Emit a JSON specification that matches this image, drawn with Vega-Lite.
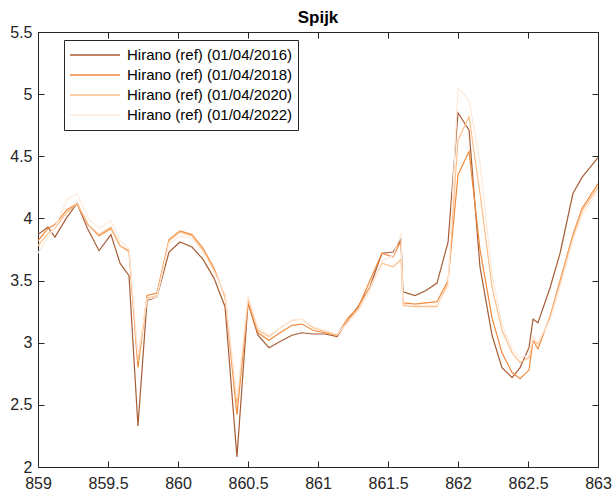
{
  "$schema": "https://vega.github.io/schema/vega-lite/v6.json",
  "width": 560,
  "height": 435,
  "autosize": {"type": "none"},
  "padding": {"left": 38, "top": 32, "right": 15, "bottom": 28},
  "background": "white",
  "title": {"text": "Spijk", "font": "Liberation Sans", "fontSize": 17, "fontWeight": "bold", "color": "#000000", "offset": -3, "anchor": "middle"},
  "config": {
    "view": {"stroke": "#262626", "strokeWidth": 1},
    "axis": {
      "grid": false,
      "domainColor": "#262626",
      "tickColor": "#262626",
      "labelColor": "#262626",
      "labelFont": "Liberation Sans",
      "labelFontSize": 16,
      "tickSize": -6,
      "tickWidth": 1,
      "domainWidth": 1,
      "title": null
    }
  },
  "data": {
    "values": [
      {"km": 859.000, "wl": 3.87, "s": "Hirano (ref) (01/04/2016)"},
      {"km": 859.071, "wl": 3.93, "s": "Hirano (ref) (01/04/2016)"},
      {"km": 859.121, "wl": 3.85, "s": "Hirano (ref) (01/04/2016)"},
      {"km": 859.207, "wl": 4.01, "s": "Hirano (ref) (01/04/2016)"},
      {"km": 859.279, "wl": 4.12, "s": "Hirano (ref) (01/04/2016)"},
      {"km": 859.357, "wl": 3.91, "s": "Hirano (ref) (01/04/2016)"},
      {"km": 859.436, "wl": 3.74, "s": "Hirano (ref) (01/04/2016)"},
      {"km": 859.521, "wl": 3.87, "s": "Hirano (ref) (01/04/2016)"},
      {"km": 859.586, "wl": 3.64, "s": "Hirano (ref) (01/04/2016)"},
      {"km": 859.650, "wl": 3.54, "s": "Hirano (ref) (01/04/2016)"},
      {"km": 859.714, "wl": 2.33, "s": "Hirano (ref) (01/04/2016)"},
      {"km": 859.779, "wl": 3.34, "s": "Hirano (ref) (01/04/2016)"},
      {"km": 859.850, "wl": 3.37, "s": "Hirano (ref) (01/04/2016)"},
      {"km": 859.936, "wl": 3.73, "s": "Hirano (ref) (01/04/2016)"},
      {"km": 860.014, "wl": 3.81, "s": "Hirano (ref) (01/04/2016)"},
      {"km": 860.100, "wl": 3.77, "s": "Hirano (ref) (01/04/2016)"},
      {"km": 860.179, "wl": 3.67, "s": "Hirano (ref) (01/04/2016)"},
      {"km": 860.257, "wl": 3.52, "s": "Hirano (ref) (01/04/2016)"},
      {"km": 860.336, "wl": 3.29, "s": "Hirano (ref) (01/04/2016)"},
      {"km": 860.421, "wl": 2.08, "s": "Hirano (ref) (01/04/2016)"},
      {"km": 860.500, "wl": 3.32, "s": "Hirano (ref) (01/04/2016)"},
      {"km": 860.571, "wl": 3.06, "s": "Hirano (ref) (01/04/2016)"},
      {"km": 860.650, "wl": 2.96, "s": "Hirano (ref) (01/04/2016)"},
      {"km": 860.729, "wl": 3.01, "s": "Hirano (ref) (01/04/2016)"},
      {"km": 860.814, "wl": 3.06, "s": "Hirano (ref) (01/04/2016)"},
      {"km": 860.886, "wl": 3.08, "s": "Hirano (ref) (01/04/2016)"},
      {"km": 860.964, "wl": 3.07, "s": "Hirano (ref) (01/04/2016)"},
      {"km": 861.050, "wl": 3.07, "s": "Hirano (ref) (01/04/2016)"},
      {"km": 861.136, "wl": 3.05, "s": "Hirano (ref) (01/04/2016)"},
      {"km": 861.214, "wl": 3.18, "s": "Hirano (ref) (01/04/2016)"},
      {"km": 861.286, "wl": 3.29, "s": "Hirano (ref) (01/04/2016)"},
      {"km": 861.371, "wl": 3.45, "s": "Hirano (ref) (01/04/2016)"},
      {"km": 861.457, "wl": 3.72, "s": "Hirano (ref) (01/04/2016)"},
      {"km": 861.536, "wl": 3.73, "s": "Hirano (ref) (01/04/2016)"},
      {"km": 861.593, "wl": 3.83, "s": "Hirano (ref) (01/04/2016)"},
      {"km": 861.607, "wl": 3.41, "s": "Hirano (ref) (01/04/2016)"},
      {"km": 861.693, "wl": 3.38, "s": "Hirano (ref) (01/04/2016)"},
      {"km": 861.771, "wl": 3.42, "s": "Hirano (ref) (01/04/2016)"},
      {"km": 861.850, "wl": 3.48, "s": "Hirano (ref) (01/04/2016)"},
      {"km": 861.929, "wl": 3.81, "s": "Hirano (ref) (01/04/2016)"},
      {"km": 862.000, "wl": 4.85, "s": "Hirano (ref) (01/04/2016)"},
      {"km": 862.079, "wl": 4.71, "s": "Hirano (ref) (01/04/2016)"},
      {"km": 862.157, "wl": 3.61, "s": "Hirano (ref) (01/04/2016)"},
      {"km": 862.243, "wl": 3.06, "s": "Hirano (ref) (01/04/2016)"},
      {"km": 862.314, "wl": 2.80, "s": "Hirano (ref) (01/04/2016)"},
      {"km": 862.386, "wl": 2.72, "s": "Hirano (ref) (01/04/2016)"},
      {"km": 862.443, "wl": 2.80, "s": "Hirano (ref) (01/04/2016)"},
      {"km": 862.507, "wl": 2.96, "s": "Hirano (ref) (01/04/2016)"},
      {"km": 862.536, "wl": 3.19, "s": "Hirano (ref) (01/04/2016)"},
      {"km": 862.571, "wl": 3.16, "s": "Hirano (ref) (01/04/2016)"},
      {"km": 862.657, "wl": 3.44, "s": "Hirano (ref) (01/04/2016)"},
      {"km": 862.729, "wl": 3.72, "s": "Hirano (ref) (01/04/2016)"},
      {"km": 862.821, "wl": 4.20, "s": "Hirano (ref) (01/04/2016)"},
      {"km": 862.886, "wl": 4.33, "s": "Hirano (ref) (01/04/2016)"},
      {"km": 863.000, "wl": 4.49, "s": "Hirano (ref) (01/04/2016)"},

      {"km": 859.000, "wl": 3.82, "s": "Hirano (ref) (01/04/2018)"},
      {"km": 859.071, "wl": 3.92, "s": "Hirano (ref) (01/04/2018)"},
      {"km": 859.121, "wl": 3.95, "s": "Hirano (ref) (01/04/2018)"},
      {"km": 859.207, "wl": 4.07, "s": "Hirano (ref) (01/04/2018)"},
      {"km": 859.279, "wl": 4.12, "s": "Hirano (ref) (01/04/2018)"},
      {"km": 859.357, "wl": 3.95, "s": "Hirano (ref) (01/04/2018)"},
      {"km": 859.436, "wl": 3.86, "s": "Hirano (ref) (01/04/2018)"},
      {"km": 859.521, "wl": 3.92, "s": "Hirano (ref) (01/04/2018)"},
      {"km": 859.586, "wl": 3.78, "s": "Hirano (ref) (01/04/2018)"},
      {"km": 859.650, "wl": 3.74, "s": "Hirano (ref) (01/04/2018)"},
      {"km": 859.714, "wl": 2.80, "s": "Hirano (ref) (01/04/2018)"},
      {"km": 859.779, "wl": 3.38, "s": "Hirano (ref) (01/04/2018)"},
      {"km": 859.850, "wl": 3.40, "s": "Hirano (ref) (01/04/2018)"},
      {"km": 859.936, "wl": 3.83, "s": "Hirano (ref) (01/04/2018)"},
      {"km": 860.014, "wl": 3.90, "s": "Hirano (ref) (01/04/2018)"},
      {"km": 860.100, "wl": 3.87, "s": "Hirano (ref) (01/04/2018)"},
      {"km": 860.179, "wl": 3.76, "s": "Hirano (ref) (01/04/2018)"},
      {"km": 860.257, "wl": 3.60, "s": "Hirano (ref) (01/04/2018)"},
      {"km": 860.336, "wl": 3.37, "s": "Hirano (ref) (01/04/2018)"},
      {"km": 860.421, "wl": 2.42, "s": "Hirano (ref) (01/04/2018)"},
      {"km": 860.500, "wl": 3.32, "s": "Hirano (ref) (01/04/2018)"},
      {"km": 860.571, "wl": 3.08, "s": "Hirano (ref) (01/04/2018)"},
      {"km": 860.650, "wl": 3.02, "s": "Hirano (ref) (01/04/2018)"},
      {"km": 860.729, "wl": 3.08, "s": "Hirano (ref) (01/04/2018)"},
      {"km": 860.814, "wl": 3.14, "s": "Hirano (ref) (01/04/2018)"},
      {"km": 860.886, "wl": 3.15, "s": "Hirano (ref) (01/04/2018)"},
      {"km": 860.964, "wl": 3.10, "s": "Hirano (ref) (01/04/2018)"},
      {"km": 861.050, "wl": 3.08, "s": "Hirano (ref) (01/04/2018)"},
      {"km": 861.136, "wl": 3.06, "s": "Hirano (ref) (01/04/2018)"},
      {"km": 861.214, "wl": 3.20, "s": "Hirano (ref) (01/04/2018)"},
      {"km": 861.286, "wl": 3.28, "s": "Hirano (ref) (01/04/2018)"},
      {"km": 861.371, "wl": 3.50, "s": "Hirano (ref) (01/04/2018)"},
      {"km": 861.457, "wl": 3.72, "s": "Hirano (ref) (01/04/2018)"},
      {"km": 861.536, "wl": 3.69, "s": "Hirano (ref) (01/04/2018)"},
      {"km": 861.593, "wl": 3.82, "s": "Hirano (ref) (01/04/2018)"},
      {"km": 861.607, "wl": 3.32, "s": "Hirano (ref) (01/04/2018)"},
      {"km": 861.693, "wl": 3.31, "s": "Hirano (ref) (01/04/2018)"},
      {"km": 861.771, "wl": 3.32, "s": "Hirano (ref) (01/04/2018)"},
      {"km": 861.850, "wl": 3.33, "s": "Hirano (ref) (01/04/2018)"},
      {"km": 861.929, "wl": 3.50, "s": "Hirano (ref) (01/04/2018)"},
      {"km": 862.000, "wl": 4.35, "s": "Hirano (ref) (01/04/2018)"},
      {"km": 862.079, "wl": 4.54, "s": "Hirano (ref) (01/04/2018)"},
      {"km": 862.157, "wl": 3.75, "s": "Hirano (ref) (01/04/2018)"},
      {"km": 862.243, "wl": 3.20, "s": "Hirano (ref) (01/04/2018)"},
      {"km": 862.314, "wl": 2.92, "s": "Hirano (ref) (01/04/2018)"},
      {"km": 862.386, "wl": 2.76, "s": "Hirano (ref) (01/04/2018)"},
      {"km": 862.443, "wl": 2.71, "s": "Hirano (ref) (01/04/2018)"},
      {"km": 862.507, "wl": 2.78, "s": "Hirano (ref) (01/04/2018)"},
      {"km": 862.536, "wl": 3.02, "s": "Hirano (ref) (01/04/2018)"},
      {"km": 862.571, "wl": 2.95, "s": "Hirano (ref) (01/04/2018)"},
      {"km": 862.657, "wl": 3.21, "s": "Hirano (ref) (01/04/2018)"},
      {"km": 862.729, "wl": 3.50, "s": "Hirano (ref) (01/04/2018)"},
      {"km": 862.821, "wl": 3.87, "s": "Hirano (ref) (01/04/2018)"},
      {"km": 862.886, "wl": 4.08, "s": "Hirano (ref) (01/04/2018)"},
      {"km": 863.000, "wl": 4.28, "s": "Hirano (ref) (01/04/2018)"},

      {"km": 859.000, "wl": 3.78, "s": "Hirano (ref) (01/04/2020)"},
      {"km": 859.071, "wl": 3.88, "s": "Hirano (ref) (01/04/2020)"},
      {"km": 859.121, "wl": 3.92, "s": "Hirano (ref) (01/04/2020)"},
      {"km": 859.207, "wl": 4.05, "s": "Hirano (ref) (01/04/2020)"},
      {"km": 859.279, "wl": 4.12, "s": "Hirano (ref) (01/04/2020)"},
      {"km": 859.357, "wl": 3.95, "s": "Hirano (ref) (01/04/2020)"},
      {"km": 859.436, "wl": 3.87, "s": "Hirano (ref) (01/04/2020)"},
      {"km": 859.521, "wl": 3.93, "s": "Hirano (ref) (01/04/2020)"},
      {"km": 859.586, "wl": 3.78, "s": "Hirano (ref) (01/04/2020)"},
      {"km": 859.650, "wl": 3.73, "s": "Hirano (ref) (01/04/2020)"},
      {"km": 859.714, "wl": 2.85, "s": "Hirano (ref) (01/04/2020)"},
      {"km": 859.779, "wl": 3.36, "s": "Hirano (ref) (01/04/2020)"},
      {"km": 859.850, "wl": 3.38, "s": "Hirano (ref) (01/04/2020)"},
      {"km": 859.936, "wl": 3.82, "s": "Hirano (ref) (01/04/2020)"},
      {"km": 860.014, "wl": 3.89, "s": "Hirano (ref) (01/04/2020)"},
      {"km": 860.100, "wl": 3.86, "s": "Hirano (ref) (01/04/2020)"},
      {"km": 860.179, "wl": 3.74, "s": "Hirano (ref) (01/04/2020)"},
      {"km": 860.257, "wl": 3.58, "s": "Hirano (ref) (01/04/2020)"},
      {"km": 860.336, "wl": 3.38, "s": "Hirano (ref) (01/04/2020)"},
      {"km": 860.421, "wl": 2.50, "s": "Hirano (ref) (01/04/2020)"},
      {"km": 860.500, "wl": 3.35, "s": "Hirano (ref) (01/04/2020)"},
      {"km": 860.571, "wl": 3.10, "s": "Hirano (ref) (01/04/2020)"},
      {"km": 860.650, "wl": 3.05, "s": "Hirano (ref) (01/04/2020)"},
      {"km": 860.729, "wl": 3.12, "s": "Hirano (ref) (01/04/2020)"},
      {"km": 860.814, "wl": 3.18, "s": "Hirano (ref) (01/04/2020)"},
      {"km": 860.886, "wl": 3.19, "s": "Hirano (ref) (01/04/2020)"},
      {"km": 860.964, "wl": 3.12, "s": "Hirano (ref) (01/04/2020)"},
      {"km": 861.050, "wl": 3.09, "s": "Hirano (ref) (01/04/2020)"},
      {"km": 861.136, "wl": 3.06, "s": "Hirano (ref) (01/04/2020)"},
      {"km": 861.214, "wl": 3.18, "s": "Hirano (ref) (01/04/2020)"},
      {"km": 861.286, "wl": 3.27, "s": "Hirano (ref) (01/04/2020)"},
      {"km": 861.371, "wl": 3.45, "s": "Hirano (ref) (01/04/2020)"},
      {"km": 861.457, "wl": 3.64, "s": "Hirano (ref) (01/04/2020)"},
      {"km": 861.536, "wl": 3.61, "s": "Hirano (ref) (01/04/2020)"},
      {"km": 861.593, "wl": 3.67, "s": "Hirano (ref) (01/04/2020)"},
      {"km": 861.607, "wl": 3.30, "s": "Hirano (ref) (01/04/2020)"},
      {"km": 861.693, "wl": 3.29, "s": "Hirano (ref) (01/04/2020)"},
      {"km": 861.771, "wl": 3.29, "s": "Hirano (ref) (01/04/2020)"},
      {"km": 861.850, "wl": 3.29, "s": "Hirano (ref) (01/04/2020)"},
      {"km": 861.929, "wl": 3.48, "s": "Hirano (ref) (01/04/2020)"},
      {"km": 862.000, "wl": 4.63, "s": "Hirano (ref) (01/04/2020)"},
      {"km": 862.079, "wl": 4.82, "s": "Hirano (ref) (01/04/2020)"},
      {"km": 862.157, "wl": 4.20, "s": "Hirano (ref) (01/04/2020)"},
      {"km": 862.243, "wl": 3.45, "s": "Hirano (ref) (01/04/2020)"},
      {"km": 862.314, "wl": 3.10, "s": "Hirano (ref) (01/04/2020)"},
      {"km": 862.386, "wl": 2.92, "s": "Hirano (ref) (01/04/2020)"},
      {"km": 862.443, "wl": 2.84, "s": "Hirano (ref) (01/04/2020)"},
      {"km": 862.507, "wl": 2.88, "s": "Hirano (ref) (01/04/2020)"},
      {"km": 862.536, "wl": 3.02, "s": "Hirano (ref) (01/04/2020)"},
      {"km": 862.571, "wl": 2.99, "s": "Hirano (ref) (01/04/2020)"},
      {"km": 862.657, "wl": 3.20, "s": "Hirano (ref) (01/04/2020)"},
      {"km": 862.729, "wl": 3.48, "s": "Hirano (ref) (01/04/2020)"},
      {"km": 862.821, "wl": 3.85, "s": "Hirano (ref) (01/04/2020)"},
      {"km": 862.886, "wl": 4.06, "s": "Hirano (ref) (01/04/2020)"},
      {"km": 863.000, "wl": 4.25, "s": "Hirano (ref) (01/04/2020)"},

      {"km": 859.000, "wl": 3.72, "s": "Hirano (ref) (01/04/2022)"},
      {"km": 859.071, "wl": 3.85, "s": "Hirano (ref) (01/04/2022)"},
      {"km": 859.121, "wl": 3.93, "s": "Hirano (ref) (01/04/2022)"},
      {"km": 859.207, "wl": 4.15, "s": "Hirano (ref) (01/04/2022)"},
      {"km": 859.279, "wl": 4.20, "s": "Hirano (ref) (01/04/2022)"},
      {"km": 859.357, "wl": 4.00, "s": "Hirano (ref) (01/04/2022)"},
      {"km": 859.436, "wl": 3.92, "s": "Hirano (ref) (01/04/2022)"},
      {"km": 859.521, "wl": 3.98, "s": "Hirano (ref) (01/04/2022)"},
      {"km": 859.586, "wl": 3.82, "s": "Hirano (ref) (01/04/2022)"},
      {"km": 859.650, "wl": 3.76, "s": "Hirano (ref) (01/04/2022)"},
      {"km": 859.714, "wl": 2.90, "s": "Hirano (ref) (01/04/2022)"},
      {"km": 859.779, "wl": 3.35, "s": "Hirano (ref) (01/04/2022)"},
      {"km": 859.850, "wl": 3.37, "s": "Hirano (ref) (01/04/2022)"},
      {"km": 859.936, "wl": 3.80, "s": "Hirano (ref) (01/04/2022)"},
      {"km": 860.014, "wl": 3.86, "s": "Hirano (ref) (01/04/2022)"},
      {"km": 860.100, "wl": 3.84, "s": "Hirano (ref) (01/04/2022)"},
      {"km": 860.179, "wl": 3.73, "s": "Hirano (ref) (01/04/2022)"},
      {"km": 860.257, "wl": 3.57, "s": "Hirano (ref) (01/04/2022)"},
      {"km": 860.336, "wl": 3.39, "s": "Hirano (ref) (01/04/2022)"},
      {"km": 860.421, "wl": 2.55, "s": "Hirano (ref) (01/04/2022)"},
      {"km": 860.500, "wl": 3.38, "s": "Hirano (ref) (01/04/2022)"},
      {"km": 860.571, "wl": 3.12, "s": "Hirano (ref) (01/04/2022)"},
      {"km": 860.650, "wl": 3.06, "s": "Hirano (ref) (01/04/2022)"},
      {"km": 860.729, "wl": 3.12, "s": "Hirano (ref) (01/04/2022)"},
      {"km": 860.814, "wl": 3.18, "s": "Hirano (ref) (01/04/2022)"},
      {"km": 860.886, "wl": 3.19, "s": "Hirano (ref) (01/04/2022)"},
      {"km": 860.964, "wl": 3.13, "s": "Hirano (ref) (01/04/2022)"},
      {"km": 861.050, "wl": 3.10, "s": "Hirano (ref) (01/04/2022)"},
      {"km": 861.136, "wl": 3.07, "s": "Hirano (ref) (01/04/2022)"},
      {"km": 861.214, "wl": 3.16, "s": "Hirano (ref) (01/04/2022)"},
      {"km": 861.286, "wl": 3.25, "s": "Hirano (ref) (01/04/2022)"},
      {"km": 861.371, "wl": 3.42, "s": "Hirano (ref) (01/04/2022)"},
      {"km": 861.457, "wl": 3.66, "s": "Hirano (ref) (01/04/2022)"},
      {"km": 861.536, "wl": 3.70, "s": "Hirano (ref) (01/04/2022)"},
      {"km": 861.593, "wl": 3.88, "s": "Hirano (ref) (01/04/2022)"},
      {"km": 861.607, "wl": 3.31, "s": "Hirano (ref) (01/04/2022)"},
      {"km": 861.693, "wl": 3.30, "s": "Hirano (ref) (01/04/2022)"},
      {"km": 861.771, "wl": 3.30, "s": "Hirano (ref) (01/04/2022)"},
      {"km": 861.850, "wl": 3.30, "s": "Hirano (ref) (01/04/2022)"},
      {"km": 861.929, "wl": 3.45, "s": "Hirano (ref) (01/04/2022)"},
      {"km": 862.000, "wl": 5.05, "s": "Hirano (ref) (01/04/2022)"},
      {"km": 862.079, "wl": 4.95, "s": "Hirano (ref) (01/04/2022)"},
      {"km": 862.157, "wl": 4.45, "s": "Hirano (ref) (01/04/2022)"},
      {"km": 862.243, "wl": 3.55, "s": "Hirano (ref) (01/04/2022)"},
      {"km": 862.314, "wl": 3.15, "s": "Hirano (ref) (01/04/2022)"},
      {"km": 862.386, "wl": 2.95, "s": "Hirano (ref) (01/04/2022)"},
      {"km": 862.443, "wl": 2.88, "s": "Hirano (ref) (01/04/2022)"},
      {"km": 862.507, "wl": 2.90, "s": "Hirano (ref) (01/04/2022)"},
      {"km": 862.536, "wl": 3.05, "s": "Hirano (ref) (01/04/2022)"},
      {"km": 862.571, "wl": 3.00, "s": "Hirano (ref) (01/04/2022)"},
      {"km": 862.657, "wl": 3.18, "s": "Hirano (ref) (01/04/2022)"},
      {"km": 862.729, "wl": 3.45, "s": "Hirano (ref) (01/04/2022)"},
      {"km": 862.821, "wl": 3.82, "s": "Hirano (ref) (01/04/2022)"},
      {"km": 862.886, "wl": 4.03, "s": "Hirano (ref) (01/04/2022)"},
      {"km": 863.000, "wl": 4.22, "s": "Hirano (ref) (01/04/2022)"}
    ]
  },
  "layer": [
    {
      "mark": {"type": "line", "strokeWidth": 1.2, "clip": true},
      "encoding": {
        "x": {
          "field": "km", "type": "quantitative",
          "scale": {"domain": [859, 863], "nice": false, "zero": false},
          "axis": {"orient": "bottom", "values": [859, 859.5, 860, 860.5, 861, 861.5, 862, 862.5, 863], "format": "~g", "labelPadding": 14, "labelFlush": false}
        },
        "y": {
          "field": "wl", "type": "quantitative",
          "scale": {"domain": [2, 5.5], "nice": false, "zero": false},
          "axis": {"orient": "left", "values": [2, 2.5, 3, 3.5, 4, 4.5, 5, 5.5], "format": "~g", "labelPadding": 12, "labelFlush": false}
        },
        "color": {
          "field": "s", "type": "nominal",
          "scale": {
            "domain": ["Hirano (ref) (01/04/2016)", "Hirano (ref) (01/04/2018)", "Hirano (ref) (01/04/2020)", "Hirano (ref) (01/04/2022)"],
            "range": ["#a65d36", "#f08a3e", "#fdbf8a", "#fdeadb"]
          },
          "legend": {
            "title": null,
            "orient": "none",
            "legendX": 26,
            "legendY": 8,
            "symbolType": "stroke",
            "symbolSize": 2500,
            "symbolStrokeWidth": 1.5,
            "labelFont": "Liberation Sans",
            "labelFontSize": 15,
            "labelColor": "#000000",
            "labelLimit": 400,
            "clipHeight": 20,
            "rowPadding": 0,
            "padding": 5,
            "strokeColor": "#262626",
            "fillColor": "#ffffff",
            "labelOffset": 6
          }
        }
      }
    },
    {
      "mark": {"type": "line", "opacity": 0},
      "encoding": {
        "x": {
          "field": "km", "type": "quantitative",
          "scale": {"domain": [859, 863], "nice": false, "zero": false},
          "axis": {"orient": "top", "values": [859, 859.5, 860, 860.5, 861, 861.5, 862, 862.5, 863], "labels": false, "domain": false}
        },
        "y": {
          "field": "wl", "type": "quantitative",
          "scale": {"domain": [2, 5.5], "nice": false, "zero": false},
          "axis": {"orient": "right", "values": [2, 2.5, 3, 3.5, 4, 4.5, 5, 5.5], "labels": false, "domain": false}
        }
      }
    }
  ],
  "resolve": {"scale": {"x": "independent", "y": "independent"}}
}
